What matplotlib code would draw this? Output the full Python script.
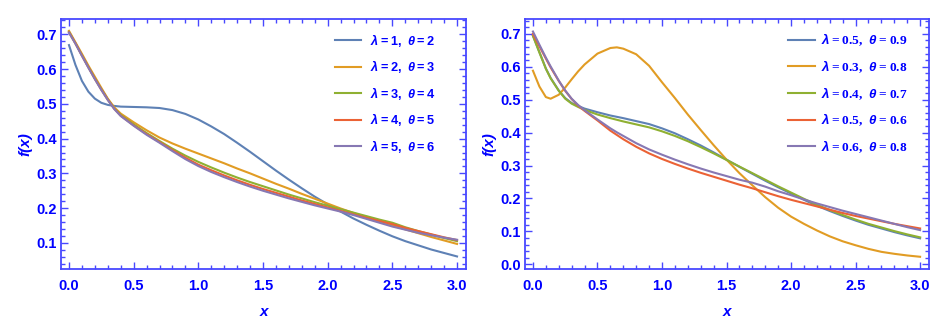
import matplotlib
matplotlib.use("Agg")
import matplotlib.pyplot as plt
from matplotlib.ticker import MultipleLocator

plt.rcParams["mathtext.fontset"] = "custom"
plt.rcParams["mathtext.bfit"] = "Liberation Sans:italic:bold"
plt.rcParams["mathtext.sf"] = "Liberation Sans:bold"
plt.rcParams["mathtext.bf"] = "Liberation Serif:bold"

# ---- data ----
X_L = [0.0, 0.05, 0.1, 0.15, 0.2, 0.25, 0.3, 0.35, 0.4, 0.5, 0.6, 0.7, 0.8, 0.9, 1.0,
       1.1, 1.2, 1.3, 1.4, 1.5, 1.6, 1.7, 1.8, 1.9, 2.0, 2.1, 2.2, 2.3, 2.4, 2.5,
       2.6, 2.7, 2.8, 2.9, 3.0]
L1 = [0.669, 0.612, 0.566, 0.535, 0.515, 0.503, 0.497, 0.494, 0.492, 0.491, 0.490, 0.488,
      0.482, 0.471, 0.455, 0.435, 0.413, 0.388, 0.362, 0.335, 0.308, 0.282, 0.257, 0.233,
      0.211, 0.190, 0.170, 0.152, 0.135, 0.119, 0.105, 0.093, 0.081, 0.071, 0.061]
L2 = [0.710, 0.677, 0.644, 0.610, 0.578, 0.546, 0.515, 0.490, 0.472, 0.447, 0.424, 0.403,
      0.386, 0.371, 0.357, 0.343, 0.329, 0.314, 0.300, 0.285, 0.270, 0.256, 0.241, 0.227,
      0.213, 0.199, 0.186, 0.173, 0.161, 0.150, 0.139, 0.128, 0.117, 0.107, 0.097]
L3 = [0.707, 0.674, 0.640, 0.606, 0.573, 0.542, 0.513, 0.487, 0.468, 0.441, 0.416, 0.393,
      0.371, 0.351, 0.333, 0.317, 0.302, 0.288, 0.275, 0.263, 0.251, 0.239, 0.228, 0.217,
      0.207, 0.197, 0.187, 0.177, 0.167, 0.158, 0.145, 0.134, 0.124, 0.114, 0.105]
L4 = [0.706, 0.674, 0.639, 0.605, 0.572, 0.541, 0.512, 0.486, 0.466, 0.438, 0.413, 0.390,
      0.367, 0.345, 0.325, 0.309, 0.294, 0.280, 0.267, 0.255, 0.244, 0.233, 0.222, 0.212,
      0.202, 0.192, 0.182, 0.172, 0.163, 0.154, 0.143, 0.134, 0.125, 0.116, 0.108]
L5 = [0.705, 0.673, 0.638, 0.604, 0.571, 0.540, 0.511, 0.485, 0.465, 0.437, 0.411, 0.388,
      0.364, 0.341, 0.321, 0.304, 0.289, 0.275, 0.262, 0.250, 0.239, 0.228, 0.218, 0.208,
      0.199, 0.190, 0.180, 0.169, 0.158, 0.147, 0.138, 0.129, 0.122, 0.115, 0.109]

X_R = [0.0, 0.05, 0.1, 0.137, 0.2, 0.25, 0.3, 0.35, 0.4, 0.5, 0.6, 0.65, 0.7, 0.8, 0.9,
       1.0, 1.1, 1.2, 1.3, 1.4, 1.5, 1.6, 1.7, 1.8, 1.9, 2.0, 2.1, 2.2, 2.3, 2.4, 2.5,
       2.6, 2.7, 2.8, 2.9, 3.0]
R1 = [0.694, 0.645, 0.595, 0.566, 0.528, 0.505, 0.490, 0.481, 0.473, 0.462, 0.452, 0.448,
      0.444, 0.435, 0.426, 0.413, 0.398, 0.380, 0.361, 0.340, 0.318, 0.296, 0.275, 0.254,
      0.234, 0.215, 0.196, 0.178, 0.162, 0.147, 0.133, 0.120, 0.109, 0.098, 0.088, 0.079]
R2 = [0.588, 0.540, 0.508, 0.503, 0.515, 0.537, 0.562, 0.586, 0.607, 0.640, 0.657, 0.659,
      0.655, 0.638, 0.603, 0.553, 0.505, 0.455, 0.408, 0.362, 0.318, 0.277, 0.240, 0.204,
      0.172, 0.145, 0.123, 0.103, 0.085, 0.070, 0.058, 0.047, 0.038, 0.032, 0.027, 0.023]
R3 = [0.694, 0.643, 0.594, 0.565, 0.527, 0.503, 0.488, 0.478, 0.469, 0.455, 0.444, 0.439,
      0.434, 0.425, 0.416, 0.404, 0.390, 0.374, 0.356, 0.337, 0.317, 0.297, 0.277, 0.257,
      0.237, 0.218, 0.199, 0.181, 0.165, 0.150, 0.136, 0.123, 0.112, 0.101, 0.091, 0.082]
R4 = [0.700, 0.662, 0.625, 0.598, 0.557, 0.527, 0.502, 0.482, 0.466, 0.437, 0.406, 0.393,
      0.380, 0.357, 0.337, 0.320, 0.305, 0.291, 0.278, 0.266, 0.254, 0.242, 0.231, 0.219,
      0.207, 0.196, 0.186, 0.176, 0.166, 0.156, 0.147, 0.139, 0.131, 0.123, 0.116, 0.109]
R5 = [0.707, 0.667, 0.628, 0.601, 0.558, 0.528, 0.503, 0.484, 0.468, 0.440, 0.413, 0.401,
      0.390, 0.368, 0.349, 0.333, 0.318, 0.304, 0.291, 0.279, 0.268, 0.257, 0.248, 0.236,
      0.222, 0.210, 0.197, 0.185, 0.174, 0.163, 0.153, 0.143, 0.133, 0.123, 0.113, 0.104]

LABELS_L = [("1", "2"), ("2", "3"), ("3", "4"), ("4", "5"), ("5", "6")]
LABELS_R = [("0.5", "0.9"), ("0.3", "0.8"), ("0.4", "0.7"), ("0.5", "0.6"), ("0.6", "0.8")]

COLORS = ["#5E81B5", "#E19C24", "#8FB032", "#EB6235", "#8778B3"]
BLUE = "#0000FF"
FRAME = "#4848FF"

fig = plt.figure(figsize=(9.51, 3.28), dpi=100)
ax1 = fig.add_axes([0.0641, 0.180, 0.426, 0.762])
ax2 = fig.add_axes([0.552, 0.180, 0.425, 0.762])


def style(ax, ylim):
    ax.set_xlim(-0.062, 3.07)
    ax.set_ylim(*ylim)
    ax.xaxis.set_major_locator(MultipleLocator(0.5))
    ax.xaxis.set_minor_locator(MultipleLocator(0.1))
    ax.yaxis.set_major_locator(MultipleLocator(0.1))
    ax.yaxis.set_minor_locator(MultipleLocator(0.02))
    for s in ax.spines.values():
        s.set_color(FRAME)
        s.set_linewidth(1.3)
    ax.tick_params(which="both", direction="in", top=True, right=True, color=FRAME, width=1.0)
    ax.tick_params(which="major", length=5)
    ax.tick_params(which="minor", length=3)
    ax.tick_params(axis="x", which="major", pad=7)
    ax.tick_params(axis="y", which="major", pad=3)
    for lab in ax.get_xticklabels() + ax.get_yticklabels():
        lab.set_family("Liberation Sans")
        lab.set_fontweight("bold")
        lab.set_fontsize(10.5)
        lab.set_color(BLUE)
    ax.set_xlabel("x", family="Liberation Sans", fontweight="bold", style="italic",
                  fontsize=11, color=BLUE, labelpad=9)
    ax.set_ylabel("f(x)", family="Liberation Sans", fontweight="bold", style="italic",
                  fontsize=11, color=BLUE, labelpad=3)


def label(a, b, fnt):
    return r"$\mathbfit{\lambda}\%s{=%s,}\ \mathbfit{\theta}\%s{=%s}$" % (fnt, a, fnt, b)


for ys, c, (a, b) in zip([L1, L2, L3, L4, L5], COLORS, LABELS_L):
    ax1.plot(X_L, ys, color=c, lw=1.5, label=label(a, b, "mathsf"))
for ys, c, (a, b) in zip([R1, R2, R3, R4, R5], COLORS, LABELS_R):
    ax2.plot(X_R, ys, color=c, lw=1.5, label=label(a, b, "mathbf"))

style(ax1, (0.025, 0.744))
style(ax2, (-0.014, 0.745))

for ax, x0, fs, tp in [(ax1, 0.677, 9.2, 0.75), (ax2, 0.651, 9.6, 0.5)]:
    leg = ax.legend(loc="upper left", bbox_to_anchor=(x0, 0.95), frameon=False,
                    handlelength=2.0, handletextpad=tp, labelspacing=0.75,
                    borderpad=0, borderaxespad=0, prop={"size": fs})
    for t in leg.get_texts():
        t.set_color(BLUE)

fig.savefig("out.png", dpi=100)
